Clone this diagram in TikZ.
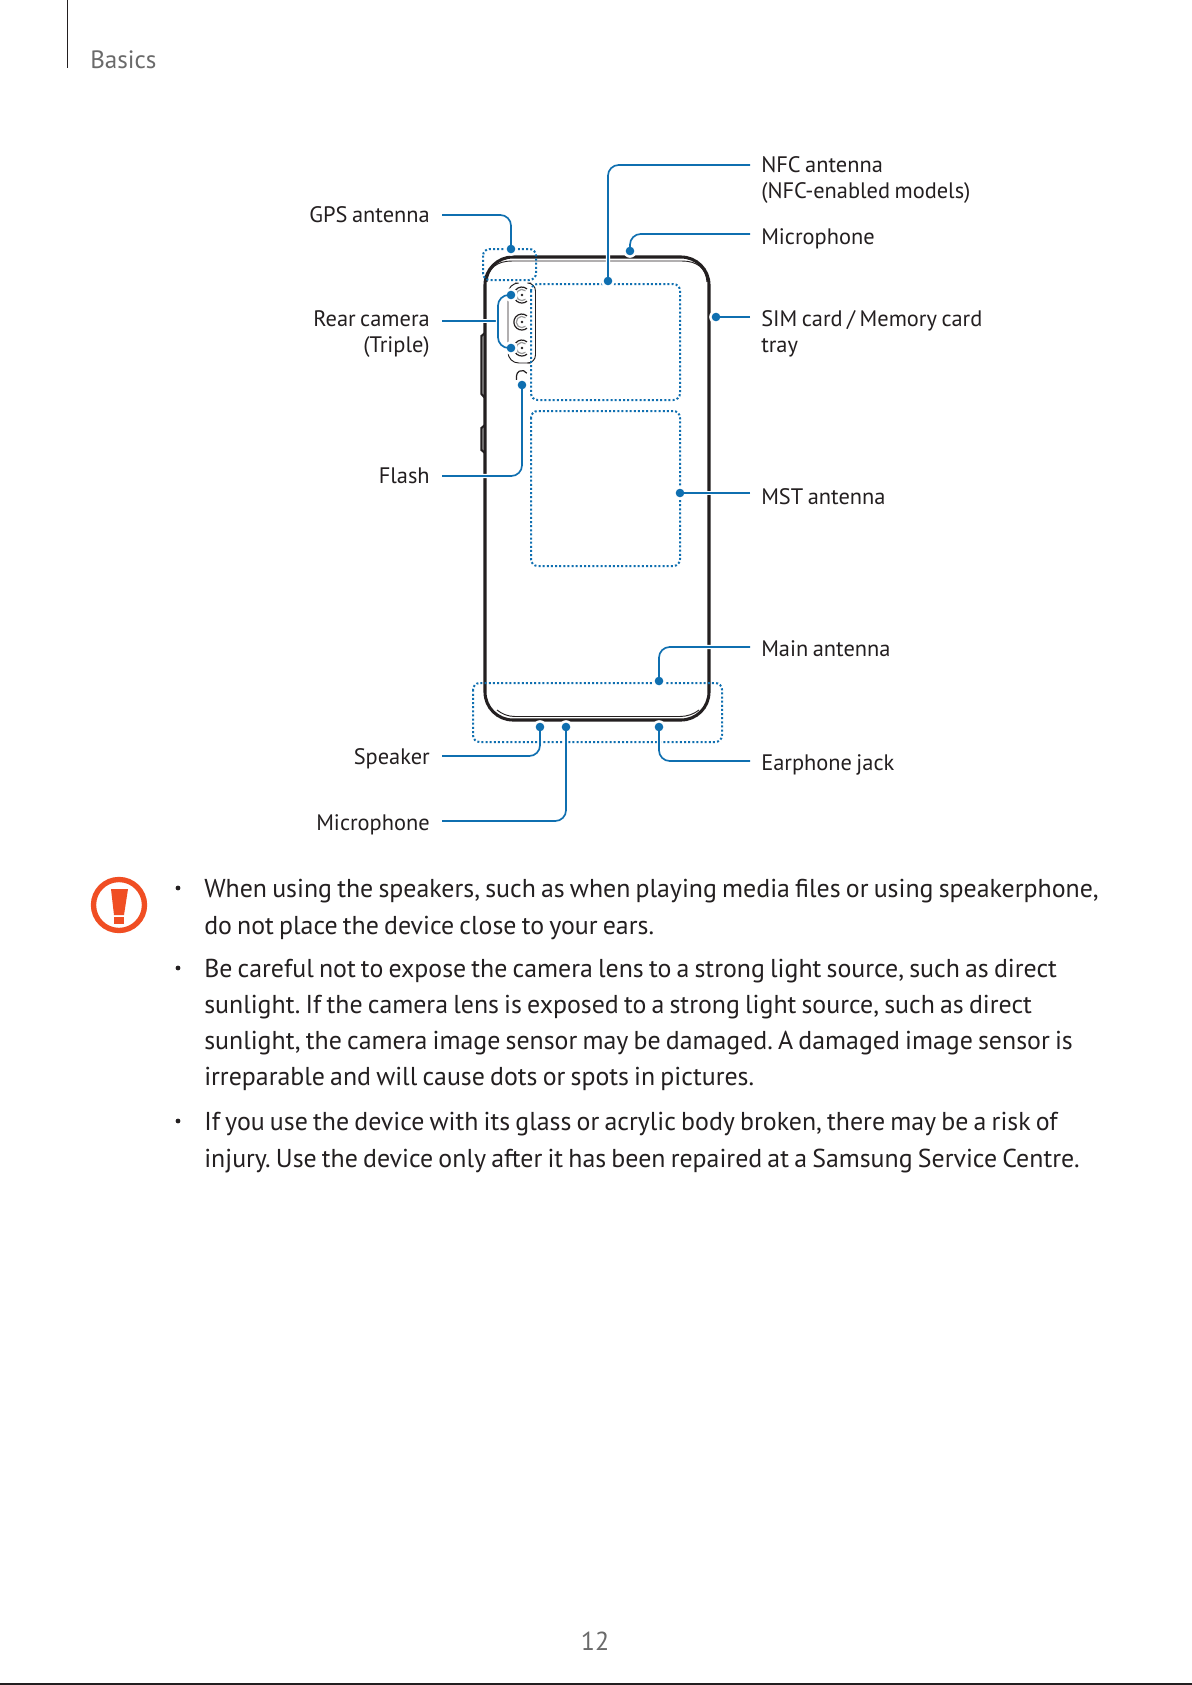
\documentclass[tikz,border=0pt]{standalone}
\usepackage{fontspec}
\setmainfont[WordSpace=0.75]{PT Sans}
\frenchspacing
\usepackage{xcolor}
\usetikzlibrary{positioning,calc}
\definecolor{cblue}{HTML}{0F6FB0}
\definecolor{cink}{HTML}{231F20}
\definecolor{cwarn}{HTML}{F04E23}
\definecolor{cgrey}{HTML}{6A6A6A}
\tikzset{
  lbl/.style={font=\fontsize{16.8}{20}\selectfont, text=cink, inner sep=0pt},
  lblr/.style={lbl, anchor=base east},
  lbll/.style={lbl, anchor=base west},
  bodytxt/.style={font=\fontsize{19.4}{24}\selectfont, text=cink, inner sep=0pt, anchor=base west},
  dotn/.style={circle, fill=white, draw=white, line width=1.2pt, inner sep=0pt, minimum size=9pt},
  leader/.style={draw=cblue, line width=1.25pt, rounded corners=8pt, preaction={draw=white, line width=3.2pt}},
  zone/.style={draw=cblue, line width=1.5pt, dash pattern=on 1.5pt off 1.6pt, rounded corners=5pt},
  body/.style={draw=cink, line width=2.3pt},
  thinl/.style={draw=cink, line width=0.7pt},
}
\begin{document}
\begin{tikzpicture}[x=0.75pt,y=-0.75pt]
\useasboundingbox (0,0) rectangle (1192,1685);
\fill[white] (0,0) rectangle (1192,1685);
\draw[cink, line width=0.9pt] (67.5,0) -- (67.5,68);
\node[lbll, text=cgrey, font=\fontsize{18.8}{24}\selectfont] (basics) at (90,68) {Basics};
% phone
\draw[body, rounded corners=21pt] (485,257) rectangle (709,720);
\draw[thinl] (487,282) .. controls (488,268) and (497,261) .. (512,261) -- (682,261) .. controls (697,261) and (706,268) .. (707,282);
\draw[thinl] (497,710) .. controls (502,714) and (508,716.5) .. (515,716.5) -- (680,716.5) .. controls (687,716.5) and (694,714) .. (699,710);
\draw[body, line width=1.6pt] (485,333) -- (481.5,336) -- (481.5,394) -- (485,398);
\draw[body, line width=1.6pt] (485,425) -- (481.5,428) -- (481.5,450) -- (485,453);
% cameras
\draw[thinl, rounded corners=8pt] (515,283) -- (508,283) -- (508,363) -- (530,363);
\draw[thinl, rounded corners=6pt] (531,283) -- (535.5,283) -- (535.5,363) -- (531,363);
\foreach \cy/\cn in {295/a,322/b,348/c}{
  \draw[thinl, line width=0.9pt] (527,\cy-6.1) arc[start angle=-50, end angle=-310, radius=8];
  \draw[thinl, draw=black!40, line width=0.9pt] (525.5,\cy-4.3) arc[start angle=-50, end angle=-310, radius=5.6];
  \fill[cink] (522,\cy) circle (1.3);
}
\draw[thinl, line width=0.9pt] (526.8,373.2) arc[start angle=-30, end angle=-180, radius=5.5] -- ++(0,4);
% dotted zones
\draw[zone] (483,249) rectangle (536,280);
\draw[zone] (531,284) rectangle (680,400);
\draw[zone] (531,411) rectangle (680,566);
\draw[zone] (473,683) rectangle (722,742);
% labels
\node[lbll] (lnfc) at (761,172) {NFC antenna};
\node[lbll] (lnfcb) at (761,198) {(NFC-enabled models)};
\node[lbll] (lmict) at (761,244) {Microphone};
\node[lbll] (lsim) at (761,326) {SIM card / Memory card};
\node[lbll] (lsimb) at (761,352) {tray};
\node[lbll] (lmst) at (761,504) {MST antenna};
\node[lbll] (lmain) at (761,656) {Main antenna};
\node[lbll] (lear) at (761,770) {Earphone jack};
\node[lblr] (lgps) at (430,222) {GPS antenna};
\node[lblr] (lrear) at (430,326) {Rear camera};
\node[lblr] (lrearb) at (430,352) {(Triple)};
\node[lblr] (lflash) at (430,483) {Flash};
\node[lblr] (lspk) at (430,764) {Speaker};
\node[lblr] (lmicb) at (430,830) {Microphone};
% leaders
\coordinate (snfc) at (750,165);
\coordinate (smict) at (750,234);
\coordinate (ssim) at (750,317);
\coordinate (smst) at (750,493);
\coordinate (smain) at (750,647);
\coordinate (sear) at (750,761);
\coordinate (sgps) at (442,215);
\coordinate (srear) at (442,321);
\coordinate (sflash) at (442,476);
\coordinate (sspk) at (442,756);
\coordinate (smicb) at (442,821);
\coordinate (jrear) at (498,321);
\node[dotn] (dnfc) at (608,281) {};
\node[dotn] (dmict) at (630,251) {};
\node[dotn] (dsim) at (716,317) {};
\node[dotn] (dmst) at (680,493) {};
\node[dotn] (dmain) at (659,681) {};
\node[dotn] (dear) at (659,727) {};
\node[dotn] (dgps) at (511,249) {};
\node[dotn] (drearu) at (511,295) {};
\node[dotn] (dreard) at (511,348) {};
\node[dotn] (dflash) at (522,385) {};
\node[dotn] (dspk) at (540,727) {};
\node[dotn] (dmicb) at (566,727) {};
\draw[leader] (snfc) -| (dnfc.center);
\draw[leader] (smict) -| (dmict.center);
\draw[leader] (ssim) -- (dsim.center);
\draw[leader] (smst) -- (dmst.center);
\draw[leader] (smain) -| (dmain.center);
\draw[leader] (sear) -| (dear.center);
\draw[leader] (sgps) -| (dgps.center);
\draw[leader] (srear) -- (jrear);
\draw[leader] (drearu.center) -| (jrear) |- (dreard.center);
\draw[leader] (sflash) -| (dflash.center);
\draw[leader] (sspk) -| (dspk.center);
\draw[leader] (smicb) -| (dmicb.center);
\foreach \dn in {dnfc,dmict,dsim,dmst,dmain,dear,dgps,drearu,dreard,dflash,dspk,dmicb}{
  \fill[cblue] (\dn) circle (4.3);
}
% warning
\draw[cwarn, line width=4pt] (119,905) circle (25.5);
\fill[cwarn] (111,889) -- (128,889) -- (124,915) -- (114,915) -- cycle;
\fill[cwarn] (114,917) rectangle (124,924);
% text
\foreach \by/\bn in {897/a,977/b,1130/c}{
  \fill[cink] (178,\by-9) circle (2.4);
}
\node[bodytxt] (ta) at (204,897) {When using the speakers, such as when playing media files or using speakerphone,};
\node[bodytxt] (tb) at (204,934) {do not place the device close to your ears.};
\node[bodytxt] (tc) at (204,977) {Be careful not to expose the camera lens to a strong light source, such as direct};
\node[bodytxt] (td) at (204,1013) {sunlight. If the camera lens is exposed to a strong light source, such as direct};
\node[bodytxt] (te) at (204,1049) {sunlight, the camera image sensor may be damaged. A damaged image sensor is};
\node[bodytxt] (tf) at (204,1085) {irreparable and will cause dots or spots in pictures.};
\node[bodytxt] (tg) at (204,1130) {If you use the device with its glass or acrylic body broken, there may be a risk of};
\node[bodytxt] (th) at (204,1167) {injury. Use the device only after it has been repaired at a Samsung Service Centre.};
\node[lbl, text=cgrey, font=\fontsize{19.5}{24}\selectfont, anchor=base] (pageno) at (595,1650) {12};
\draw[cink, line width=1.6pt] (0,1684) -- (1192,1684);
\end{tikzpicture}
\end{document}
